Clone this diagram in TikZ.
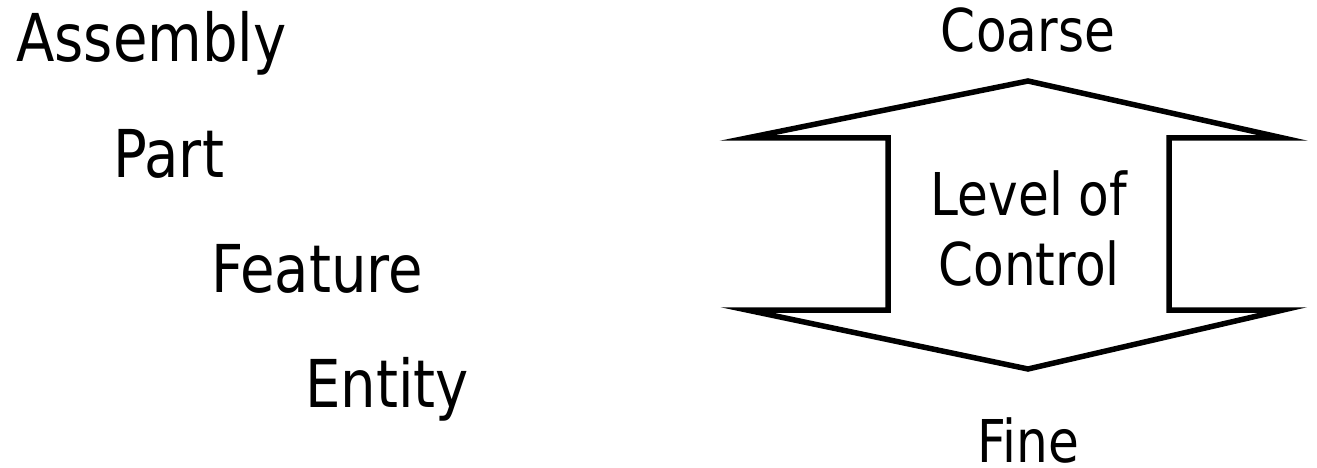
\documentclass[tikz,border=0pt]{standalone}
\usepackage{fontspec}
\newfontfamily\tah[FakeStretch=0.85]{DejaVu Sans}
\begin{document}
\begin{tikzpicture}[x=1pt,y=-1pt,
  big/.style={inner sep=0pt,font=\tah\fontsize{66}{79}\selectfont},
  mid/.style={inner sep=0pt,font=\tah\fontsize{59}{70}\selectfont},
  outline/.style={line width=5.5pt,line join=miter,miter limit=20}]
\useasboundingbox (0,0) rectangle (1317,468);
\node[big,anchor=base west] (asm) at (16,62) {Assembly};
\node[big,anchor=base west] (prt) at (113,177) {Part};
\node[big,anchor=base west] (fea) at (211,292) {Feature};
\node[big,anchor=base west] (ent) at (305,407) {Entity};
\node[mid,anchor=base] (coarse) at (1028,52) {Coarse};
\node[mid,anchor=base] (lvl) at (1029,215) {Level of};
\node[mid,anchor=base] (ctl) at (1029,285) {Control};
\node[mid,anchor=base] (fine) at (1028,462) {Fine};
\coordinate (lt) at (747,138);
\coordinate (ap) at (1028,81);
\coordinate (rt) at (1283,138);
\coordinate (ri1) at (1169,138);
\coordinate (ri2) at (1169,310);
\coordinate (rb) at (1283,310);
\coordinate (bp) at (1028,369);
\coordinate (lb) at (747,310);
\coordinate (li2) at (888,310);
\coordinate (li1) at (888,138);
\draw[outline] (lt) -- (ap) -- (rt) -- (ri1) -- (ri2) -- (rb) -- (bp) -- (lb) -- (li2) -- (li1) -- cycle;
\end{tikzpicture}
\end{document}
